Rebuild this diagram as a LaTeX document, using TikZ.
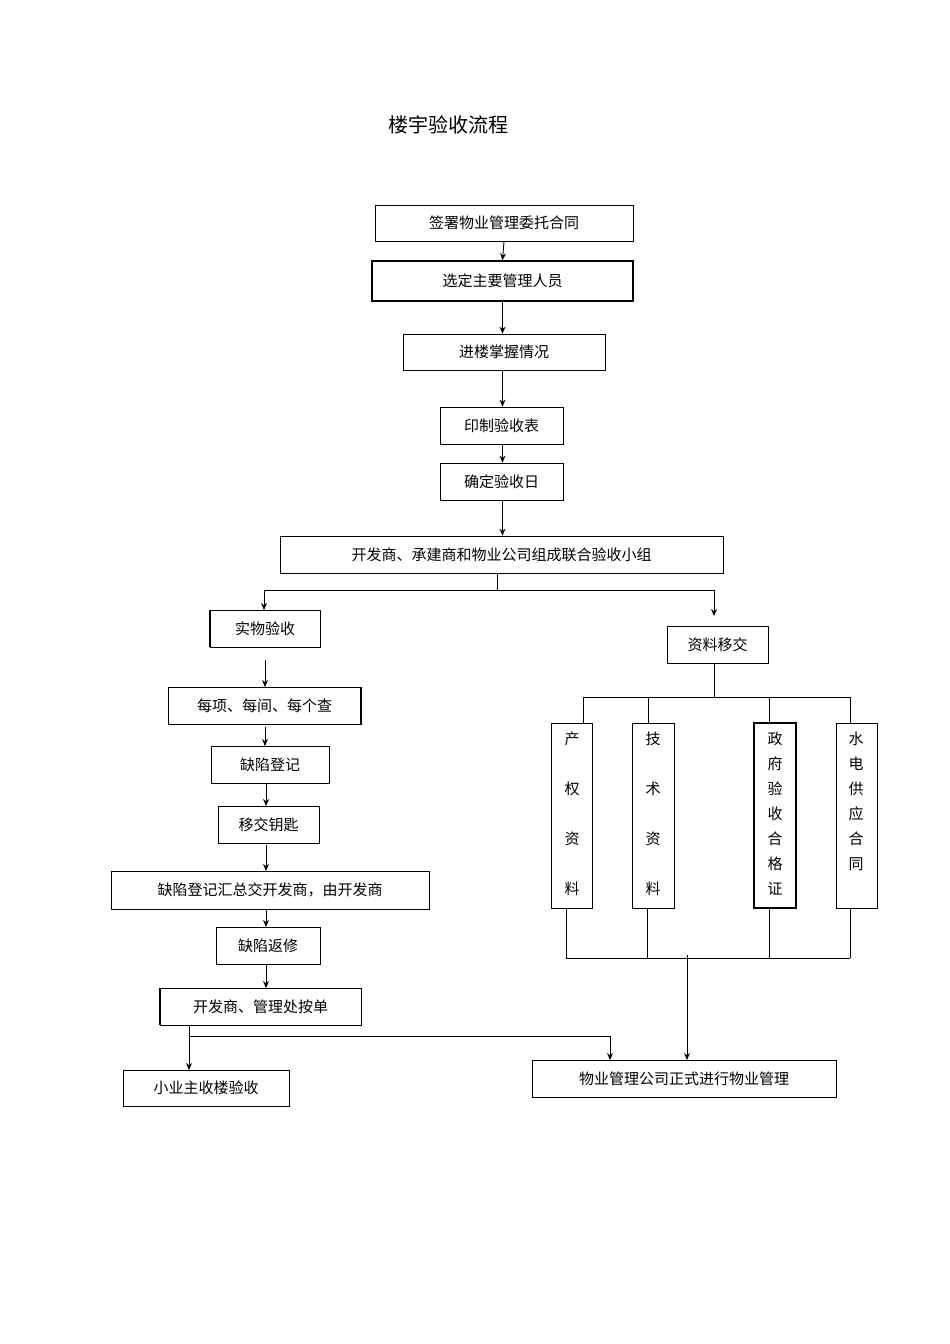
\documentclass[tikz,border=0pt]{standalone}
\usepackage{fontspec}
\newfontfamily\cjk{Noto Sans CJK SC}
\usetikzlibrary{arrows.meta}
\begin{document}
\begin{tikzpicture}[x=1pt,y=-1pt,
  bx/.style={draw,line width=0.8pt,font=\cjk\fontsize{15}{18}\selectfont,inner sep=0pt},
  ar/.style={-{Stealth[length=7pt,width=6pt]},line width=0.9pt},
  ln/.style={line width=0.8pt}]
\useasboundingbox (0,0) rectangle (950,1344);
\node[font=\cjk\fontsize{20}{24}\selectfont] (t) at (448,125) {楼宇验收流程};
\newcommand{\bxx}[6]{\node[bx,minimum width=#4-#2,minimum height=#5-#3,#6] (#1) at ({(#2+#4)/2},{(#3+#5)/2}) {};}
\bxx{b1}{375}{205}{633}{241}{} \node[font=\cjk\fontsize{15}{18}\selectfont] at (b1) {签署物业管理委托合同};
\bxx{b2}{372}{261}{633}{301}{line width=1.4pt} \node[font=\cjk\fontsize{15}{18}\selectfont] at (b2) {选定主要管理人员};
\bxx{b3}{403}{334}{605}{370}{} \node[font=\cjk\fontsize{15}{18}\selectfont] at (b3) {进楼掌握情况};
\bxx{b4}{440}{407}{563}{444}{} \node[font=\cjk\fontsize{15}{18}\selectfont] at (b4) {印制验收表};
\bxx{b5}{440}{463}{563}{500}{} \node[font=\cjk\fontsize{15}{18}\selectfont] at (b5) {确定验收日};
\bxx{b6}{280}{536}{723}{573}{} \node[font=\cjk\fontsize{15}{18}\selectfont] at (b6) {开发商、承建商和物业公司组成联合验收小组};
\bxx{b7}{210}{610}{320}{647}{} \node[font=\cjk\fontsize{15}{18}\selectfont] at (b7) {实物验收};
\draw[line width=1.6pt] (210,610)--(210,647);
\bxx{b8}{667}{626}{768}{663}{} \node[font=\cjk\fontsize{15}{18}\selectfont] at (b8) {资料移交};
\bxx{b9}{168}{687}{361}{724}{} \node[font=\cjk\fontsize{15}{18}\selectfont] at (b9) {每项、每间、每个查};
\draw[line width=1.6pt] (361,687)--(361,724);
\bxx{b10}{211}{746}{329}{783}{} \node[font=\cjk\fontsize{15}{18}\selectfont] at (b10) {缺陷登记};
\bxx{b11}{218}{806}{319}{843}{} \node[font=\cjk\fontsize{15}{18}\selectfont] at (b11) {移交钥匙};
\bxx{b12}{111}{871}{429}{909}{} \node[font=\cjk\fontsize{15}{18}\selectfont] at (b12) {缺陷登记汇总交开发商，由开发商};
\bxx{b13}{216}{927}{320}{964}{} \node[font=\cjk\fontsize{15}{18}\selectfont] at (b13) {缺陷返修};
\bxx{b14}{160}{988}{361}{1025}{} \node[font=\cjk\fontsize{15}{18}\selectfont] at (b14) {开发商、管理处按单};
\draw[line width=1.6pt] (160,988)--(160,1025);
\bxx{b15}{123}{1070}{289}{1106}{} \node[font=\cjk\fontsize{15}{18}\selectfont] at (b15) {小业主收楼验收};
\bxx{b16}{532}{1060}{836}{1097}{} \node[font=\cjk\fontsize{15}{18}\selectfont] at (b16) {物业管理公司正式进行物业管理};
% vertical boxes
\bxx{v1}{551}{723}{592}{908}{}
\bxx{v2}{632}{723}{674}{908}{}
\bxx{v3}{754}{723}{796}{908}{line width=1.3pt}
\bxx{v4}{836}{723}{877}{908}{}
\begin{scope}[every node/.style={font=\cjk\fontsize{15}{18}\selectfont,anchor=north,align=center}]
\node[font=\cjk\fontsize{15}{50}\selectfont] at (572,728) {产\\权\\资\\料};
\node[font=\cjk\fontsize{15}{50}\selectfont] at (653,728) {技\\术\\资\\料};
\node[font=\cjk\fontsize{15}{25}\selectfont] at (775,728) {政\\府\\验\\收\\合\\格\\证};
\node[font=\cjk\fontsize{15}{25}\selectfont] at (856,728) {水\\电\\供\\应\\合\\同};
\end{scope}
% arrows
\draw[ar] (b1.south) -- (b2.north);
\draw[ar] (b2.south) -- (b2.south|-b3.north);
\draw[ar] (b3.south-|b2.south) -- (b2.south|-b4.north);
\draw[ar] (b4.south-|b2.south) -- (b2.south|-b5.north);
\draw[ar] (b5.south-|b2.south) -- (b2.south|-b6.north);
\coordinate (s) at (497,590);
\draw[ln] (497,573) -- (s);
\draw[ln] (264,590) -- (714,590);
\draw[ar] (264,590) -- (264,610);
\draw[ar] (714,590) -- (714,616);
\draw[ar] (265,660) -- (265,687);
\draw[ar] (265,727) -- (265,746);
\draw[ar] (266,783) -- (266,806);
\draw[ar] (266,845) -- (266,871);
\draw[ar] (266,909) -- (266,927);
\draw[ar] (266,964) -- (266,988);
\draw[ar] (189,1025) -- (189,1070);
\draw[ln] (189,1036) -- (610,1036);
\draw[ar] (610,1036) -- (610,1060);
\draw[ln] (714,663) -- (714,697);
\draw[ln] (583,697) -- (850,697);
\foreach \x in {583,648,769,850} \draw[ln] (\x,697) -- (\x,723);
\foreach \x in {566,647,769,850} \draw[ln] (\x,908) -- (\x,958);
\draw[ln] (566,958) -- (850,958);
\draw[ar] (687,955) -- (687,1060);
\end{tikzpicture}
\end{document}
